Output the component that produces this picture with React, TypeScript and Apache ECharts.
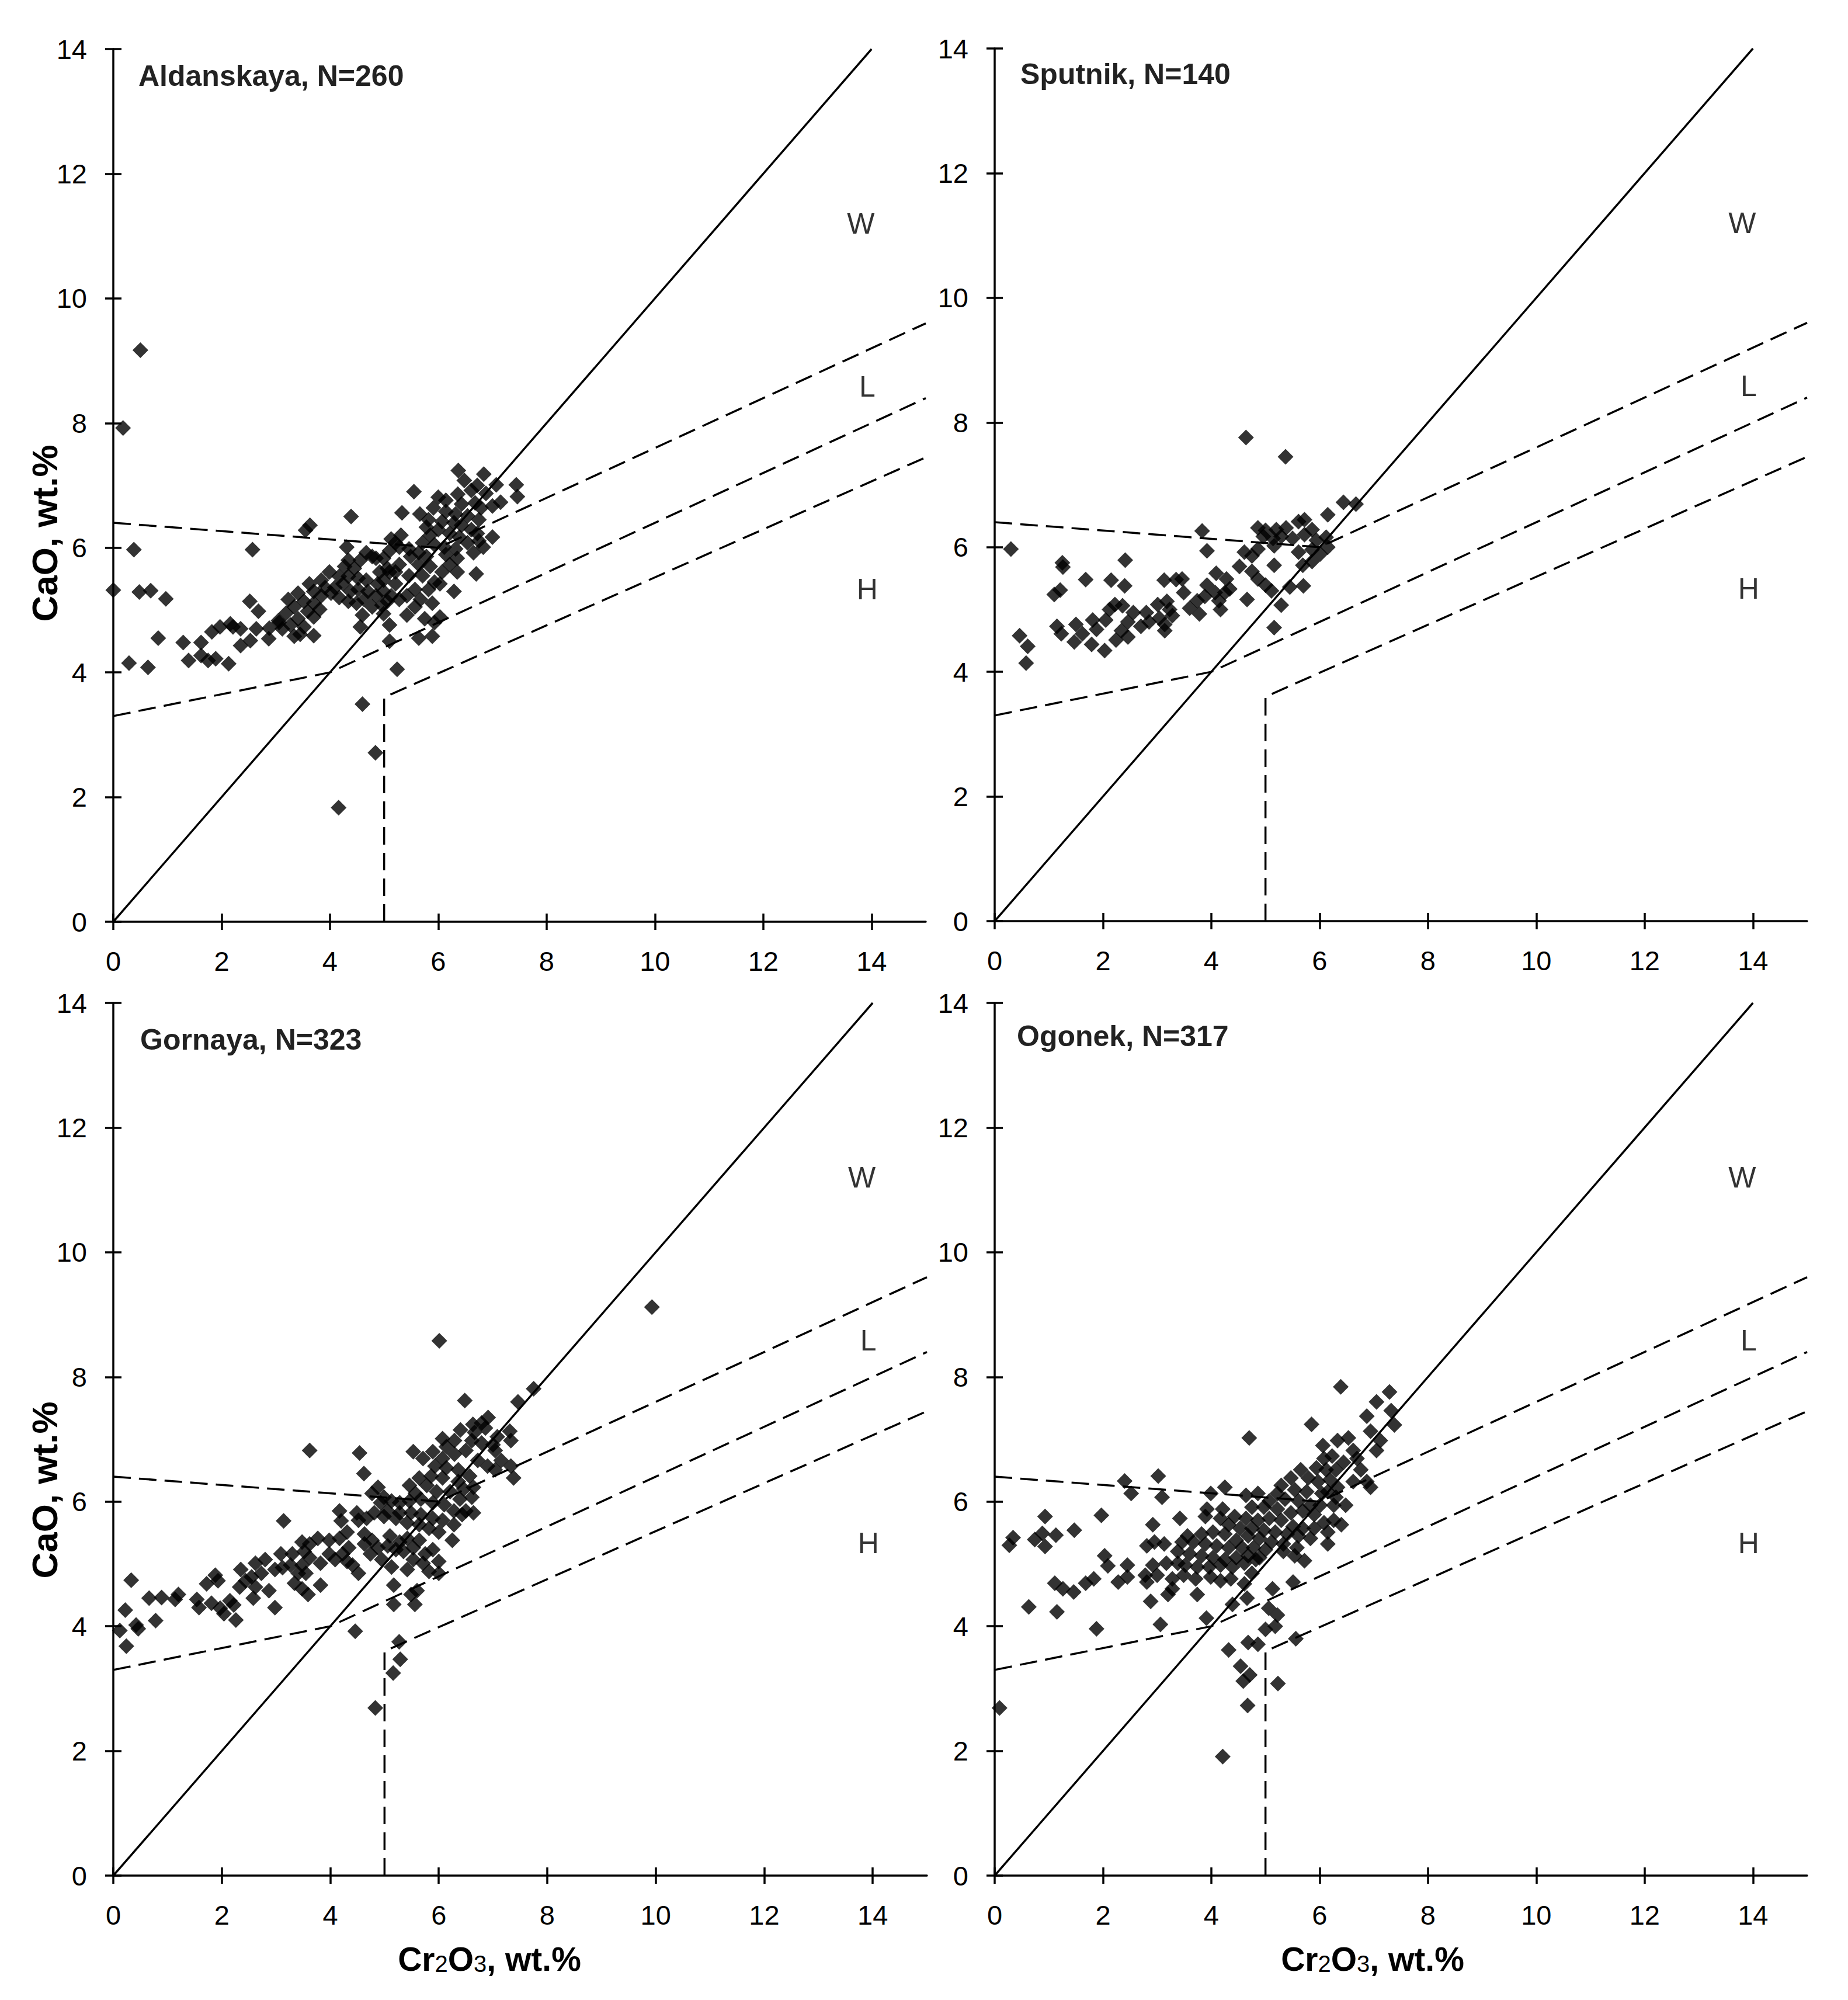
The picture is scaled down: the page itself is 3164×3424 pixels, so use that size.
import React, { useEffect, useRef } from "react";
import * as echarts from "echarts";

const FONT = '"Liberation Sans", Arial, sans-serif';

// ---------- axis ticks / texts ----------
const xTickValues = [0, 2, 4, 6, 8, 10, 12, 14];
const yTickValues = [0, 2, 4, 6, 8, 10, 12, 14];
const yAxisTitle = "CaO, wt.%";
const panelTitles = ["Aldanskaya, N=260", "Sputnik, N=140", "Gornaya, N=323", "Ogonek, N=317"];
const regionNames = ["W", "L", "H"];
const regionPositions = [[13.8, 11.2], [13.92, 8.58], [13.92, 5.33]];

// ---------- classification lines ----------
const diagonalLine = [[0, 0], [14, 14]];
const upperBoundary = [[0, 6.4], [6, 6], [15, 9.6]];
const middleBoundary = [[0, 3.3], [4, 4], [15, 8.4]];
const lowerBoundary = [[5, 0], [5, 3.6], [15, 7.45]];

// ---------- data ----------
const aldanskaya = [
  [0.5, 9.17], [0.18, 7.92], [0.38, 5.97], [0.0, 5.32], [0.48, 5.29], [0.69, 5.31], [0.97, 5.18], [0.83, 4.55],
  [0.29, 4.15], [0.64, 4.08], [1.29, 4.48], [1.39, 4.19], [1.62, 4.48], [1.62, 4.27], [1.75, 4.19], [1.89, 4.22],
  [2.13, 4.14], [1.82, 4.65], [1.97, 4.73], [2.16, 4.78], [2.35, 4.7], [2.35, 4.43], [2.53, 4.51], [2.64, 4.7],
  [2.68, 4.98], [2.52, 5.14], [2.57, 5.97], [2.87, 4.54], [2.88, 4.71], [3.06, 4.8], [2.21, 4.73], [3.63, 6.36],
  [3.55, 6.28], [4.39, 6.5], [4.6, 3.49], [4.84, 2.71], [4.16, 1.83], [5.55, 6.9], [6.37, 7.24], [6.84, 7.18],
  [7.07, 7.01], [7.44, 7.01], [7.46, 6.82],
  [6.48, 7.08], [6.72, 7.0], [6.88, 6.87], [6.61, 6.92], [6.36, 6.86], [6.0, 6.81], [6.14, 6.76], [6.43, 6.7],
  [6.68, 6.72], [7.15, 6.73], [7.0, 6.67], [6.79, 6.64], [5.33, 6.56], [5.66, 6.54], [5.91, 6.64], [6.14, 6.58],
  [6.32, 6.54], [6.54, 6.51], [6.75, 6.45], [5.82, 6.45], [6.07, 6.42], [6.29, 6.4], [6.43, 6.36], [6.61, 6.29],
  [5.78, 6.33], [6.0, 6.29], [6.21, 6.23], [6.39, 6.17], [6.72, 6.23], [7.0, 6.17], [6.75, 6.11], [6.54, 6.08],
  [5.85, 6.2], [5.71, 6.08], [5.93, 6.05], [6.11, 6.01], [6.32, 5.98], [6.65, 5.92], [6.83, 6.01], [5.31, 6.2],
  [5.21, 6.08], [5.46, 5.98], [5.64, 5.92], [5.78, 5.86], [6.14, 5.89], [6.35, 5.83], [6.21, 5.73], [5.1, 5.95],
  [4.99, 5.83], [5.06, 5.67], [5.28, 5.73], [5.49, 5.86], [5.64, 5.73], [5.85, 5.7], [6.07, 5.61], [6.35, 5.61],
  [6.7, 5.58], [5.21, 5.61], [5.46, 5.55], [5.71, 5.55], [5.93, 5.45], [6.03, 5.42], [6.29, 5.3], [5.82, 5.33],
  [5.57, 5.33], [5.42, 5.23], [5.67, 5.17], [5.89, 5.11], [5.21, 5.42], [4.99, 5.48], [4.92, 5.61], [4.85, 5.83],
  [4.78, 5.86], [4.67, 5.92], [4.56, 5.8], [4.34, 5.8], [4.45, 5.67], [4.31, 6.01], [4.27, 5.7], [5.13, 6.14],
  [5.28, 6.01], [5.1, 5.61], [4.88, 5.42], [4.67, 5.48], [4.52, 5.51], [4.34, 5.54], [4.17, 5.54], [3.99, 5.61],
  [3.84, 5.48], [3.62, 5.42], [3.7, 5.3], [3.91, 5.36], [4.09, 5.36], [4.24, 5.42], [4.38, 5.3], [4.52, 5.33],
  [4.7, 5.3], [4.85, 5.23], [4.99, 5.3], [5.13, 5.23], [5.28, 5.17], [5.06, 5.14], [4.96, 5.08], [4.63, 5.17],
  [4.49, 5.11], [4.34, 5.14], [4.17, 5.2], [4.02, 5.27], [3.84, 5.23], [3.7, 5.11], [3.52, 5.14], [3.41, 5.27],
  [3.23, 5.17], [3.34, 5.05], [3.19, 4.95], [3.05, 4.83], [3.12, 4.7], [3.27, 4.76], [3.41, 4.86], [3.59, 4.98],
  [3.81, 5.01], [3.7, 4.89], [3.52, 4.73], [3.34, 4.58], [3.45, 4.61], [3.7, 4.59], [4.6, 4.92], [4.56, 4.73],
  [4.78, 5.05], [4.99, 4.94], [5.1, 4.76], [5.42, 4.92], [5.57, 5.05], [5.75, 4.86], [5.93, 4.8], [6.03, 4.89],
  [5.89, 4.58], [5.64, 4.55], [5.1, 4.5], [5.24, 4.05]
];

const sputnik = [
  [0.3, 5.97], [1.25, 5.75], [1.26, 5.68], [2.41, 5.79], [1.68, 5.48], [2.15, 5.47], [2.4, 5.38], [3.13, 5.47],
  [3.35, 5.48], [1.21, 5.31], [1.1, 5.24], [1.15, 4.73], [1.23, 4.61], [0.46, 4.58], [0.61, 4.41], [0.58, 4.14],
  [1.5, 4.76], [1.47, 4.48], [1.62, 4.61], [1.79, 4.44], [1.81, 4.83], [1.88, 4.68], [2.03, 4.34], [2.05, 4.83],
  [2.12, 5.0], [2.24, 4.51], [2.22, 5.08], [2.36, 5.06], [2.34, 4.66], [2.46, 4.56], [2.46, 4.8], [2.56, 4.95],
  [2.7, 4.73], [2.8, 4.95], [2.85, 4.8], [3.04, 4.86], [3.01, 5.08], [3.14, 4.66], [3.14, 4.76], [3.23, 5.0],
  [3.28, 4.9], [3.18, 5.13], [4.64, 7.76], [5.37, 7.45],
  [6.44, 6.72], [6.67, 6.69], [6.15, 6.52], [3.83, 6.26], [3.92, 5.94], [4.86, 6.31], [5.0, 6.27], [5.2, 6.28],
  [5.38, 6.31], [5.61, 6.41], [5.72, 6.44], [5.86, 6.28], [4.96, 6.17], [5.14, 6.14], [5.29, 6.17], [5.5, 6.14],
  [5.72, 6.2], [5.94, 6.11], [6.12, 6.16], [5.16, 6.02], [5.61, 5.92], [5.86, 5.96], [6.01, 5.89], [6.15, 6.0],
  [4.86, 5.97], [4.61, 5.92], [4.75, 5.86], [4.52, 5.69], [5.16, 5.71], [5.69, 5.71], [5.86, 5.77], [4.09, 5.58],
  [4.28, 5.49], [4.75, 5.61], [4.86, 5.49], [5.0, 5.39], [5.11, 5.3], [3.92, 5.39], [3.46, 5.49], [3.49, 5.27],
  [3.74, 5.14], [3.88, 5.21], [4.07, 5.27], [4.25, 5.27], [4.14, 5.14], [3.6, 5.02], [3.78, 4.93], [4.17, 5.0],
  [4.66, 5.16], [5.29, 5.07], [5.45, 5.36], [5.7, 5.38], [5.16, 4.71], [4.34, 5.33]
];

const gornaya = [
  [6.01, 8.58], [7.75, 7.81], [7.46, 7.6], [6.48, 7.62], [3.62, 6.82], [4.54, 6.78], [4.62, 6.45], [3.14, 5.69],
  [4.46, 3.92], [4.83, 2.69], [5.27, 3.75], [5.29, 3.47], [5.16, 3.25], [9.93, 9.12],
  [0.33, 4.74], [0.22, 4.26], [0.12, 3.93], [0.24, 3.68], [0.42, 4.02], [0.46, 3.96], [0.78, 4.09], [0.66, 4.45],
  [0.89, 4.46], [1.14, 4.43], [1.2, 4.51], [1.54, 4.43], [1.58, 4.3], [1.81, 4.37], [1.72, 4.68], [1.88, 4.82],
  [1.93, 4.73], [1.97, 4.29], [2.04, 4.2], [2.15, 4.41], [2.22, 4.34], [2.26, 4.1], [2.35, 4.91], [2.33, 4.63],
  [2.44, 4.73], [2.58, 4.45], [2.55, 4.79], [2.62, 5.01], [2.62, 4.63], [2.73, 4.85], [2.8, 5.07], [2.87, 4.57],
  [2.98, 4.3], [2.98, 4.91], [3.09, 5.16], [3.12, 4.94], [3.3, 5.16], [3.27, 4.98], [3.34, 4.69], [3.41, 4.85],
  [6.91, 7.35], [6.79, 7.26], [6.63, 7.24], [6.4, 7.15], [7.31, 7.13], [6.66, 7.11], [6.86, 7.18], [7.08, 7.04],
  [7.33, 6.98], [6.07, 7.01], [6.29, 6.98], [6.61, 6.98], [6.79, 6.94], [7.0, 6.91], [5.53, 6.8], [5.89, 6.8],
  [6.14, 6.88], [5.71, 6.69], [6.07, 6.69], [6.29, 6.76], [6.5, 6.82], [6.72, 6.66], [7.04, 6.82], [7.15, 6.66],
  [6.9, 6.57], [7.04, 6.51], [7.33, 6.57], [7.38, 6.38], [5.93, 6.57], [6.14, 6.54], [6.36, 6.51], [6.57, 6.41],
  [6.64, 6.23], [6.61, 6.07], [6.64, 5.82], [6.5, 5.85], [5.46, 6.26], [5.64, 6.38], [5.86, 6.41], [6.07, 6.38],
  [6.36, 6.32], [5.57, 6.13], [5.78, 6.26], [5.96, 6.16], [6.21, 6.16], [6.39, 6.04], [6.46, 6.2], [5.46, 6.01],
  [5.67, 6.04], [5.89, 5.98], [6.1, 5.95], [6.28, 5.85], [6.43, 5.79], [4.88, 6.23], [4.77, 6.13], [4.99, 6.07],
  [5.13, 6.01], [5.28, 5.98], [4.93, 5.98], [5.06, 5.85], [5.28, 5.82], [5.49, 5.82], [5.67, 5.79], [5.89, 5.73],
  [6.07, 5.7], [6.28, 5.63], [6.25, 5.38], [6.0, 5.51], [5.82, 5.57], [5.64, 5.63], [5.42, 5.66], [5.21, 5.73],
  [4.99, 5.76], [4.81, 5.82], [4.67, 5.73], [4.52, 5.7], [4.49, 5.82], [4.17, 5.85], [4.2, 5.69], [4.31, 5.51],
  [4.17, 5.41], [3.98, 5.38], [3.77, 5.41], [3.62, 5.32], [3.48, 5.35], [3.52, 5.2], [3.62, 5.1], [3.48, 4.98],
  [3.55, 4.85], [3.48, 4.6], [3.59, 4.51], [3.82, 4.66], [3.82, 5.01], [3.98, 5.16], [4.09, 5.07], [4.23, 5.16],
  [4.34, 5.26], [4.31, 5.04], [4.41, 4.98], [4.52, 4.85], [4.63, 5.48], [4.63, 5.32], [4.77, 5.38], [4.74, 5.16],
  [4.88, 5.26], [4.95, 5.07], [5.1, 5.45], [5.06, 5.29], [5.21, 5.23], [5.28, 5.35], [5.42, 5.41], [5.35, 5.2],
  [5.53, 5.26], [5.64, 5.38], [5.75, 5.16], [5.89, 5.23], [5.53, 5.07], [5.71, 5.01], [6.0, 5.04], [6.0, 4.85],
  [5.82, 4.88], [5.42, 4.91], [5.13, 4.95], [5.17, 4.66], [5.6, 4.57], [5.56, 4.35], [5.17, 4.35], [5.49, 4.51]
];

const ogonek = [
  [0.09, 2.69], [4.21, 1.91], [0.34, 5.42], [0.27, 5.3], [0.74, 5.39], [0.88, 5.49], [0.93, 5.76], [1.13, 5.46],
  [0.93, 5.28], [1.47, 5.54], [1.97, 5.78], [0.63, 4.31], [1.11, 4.69], [1.26, 4.6], [1.46, 4.55], [1.15, 4.23],
  [1.68, 4.69], [1.83, 4.76], [1.88, 3.96], [2.03, 5.13], [2.09, 4.97], [2.28, 4.71], [2.4, 6.33], [4.54, 3.36],
  [4.71, 3.22], [4.59, 3.12], [4.67, 2.73], [5.23, 3.08],
  [6.39, 7.84], [7.29, 7.76], [7.05, 7.6], [7.32, 7.46], [6.87, 7.37], [5.85, 7.24], [4.7, 7.02], [7.38, 7.23],
  [6.94, 7.13], [7.12, 6.98], [7.05, 6.82], [6.33, 6.98], [6.53, 7.02], [6.06, 6.9], [6.62, 6.82], [6.69, 6.69],
  [6.23, 6.73], [6.08, 6.69], [6.44, 6.63], [6.76, 6.51], [6.62, 6.32], [6.94, 6.23], [6.87, 6.32], [5.94, 6.54],
  [6.12, 6.51], [6.3, 6.51], [6.19, 6.35], [6.33, 6.23], [5.65, 6.51], [5.47, 6.38], [5.79, 6.38], [5.97, 6.32],
  [6.48, 5.94], [6.3, 6.07], [5.29, 6.26], [5.54, 6.19], [5.76, 6.16], [6.04, 6.13], [6.15, 6.16], [6.26, 5.94],
  [6.01, 5.94], [5.83, 5.94], [5.61, 6.01], [5.36, 6.04], [5.22, 6.13], [5.07, 6.01], [4.86, 6.13], [4.64, 6.1],
  [4.25, 6.23], [3.99, 6.13], [3.02, 6.41], [3.09, 6.07], [2.52, 6.13], [4.75, 5.91], [4.97, 5.91], [5.22, 5.88],
  [5.47, 5.82], [5.69, 5.85], [5.9, 5.79], [6.08, 5.66], [6.26, 5.7], [6.15, 5.51], [6.4, 5.63], [6.15, 5.32],
  [5.9, 5.57], [5.69, 5.57], [5.51, 5.6], [5.29, 5.7], [5.07, 5.73], [4.86, 5.7], [4.64, 5.73], [4.43, 5.76],
  [4.21, 5.88], [4.17, 5.73], [3.92, 5.88], [3.89, 5.76], [3.42, 5.73], [2.92, 5.63], [4.32, 5.63], [4.53, 5.57],
  [4.75, 5.57], [4.97, 5.54], [5.18, 5.51], [5.4, 5.48], [5.61, 5.45], [5.83, 5.41], [5.33, 5.32], [5.58, 5.26],
  [5.11, 5.35], [4.89, 5.41], [4.68, 5.45], [4.46, 5.38], [4.25, 5.48], [4.03, 5.51], [3.82, 5.48], [3.56, 5.45],
  [3.46, 5.35], [3.67, 5.35], [3.89, 5.32], [4.1, 5.29], [4.32, 5.26], [4.57, 5.26], [4.78, 5.26], [5.0, 5.23],
  [5.33, 5.2], [5.54, 5.13], [5.72, 5.05], [4.89, 5.1], [4.68, 5.13], [4.46, 5.1], [4.25, 5.07], [4.03, 5.1],
  [3.82, 5.13], [3.6, 5.16], [3.38, 5.2], [3.13, 5.32], [2.81, 5.29], [2.95, 5.35], [2.92, 4.98], [3.17, 5.01],
  [3.38, 5.01], [3.52, 4.98], [3.74, 4.95], [3.96, 4.95], [4.17, 4.98], [4.39, 4.95], [4.61, 5.01], [4.82, 5.07],
  [2.45, 4.98], [2.45, 4.79], [2.78, 4.82], [3.0, 4.82], [3.28, 4.76], [3.49, 4.82], [3.71, 4.76], [3.99, 4.79],
  [4.17, 4.73], [4.36, 4.76], [2.81, 4.71], [3.28, 4.6], [3.74, 4.51], [3.2, 4.51], [2.88, 4.4], [4.61, 4.68],
  [4.75, 4.85], [5.51, 4.71], [5.13, 4.6], [4.66, 4.45], [4.39, 4.35], [3.91, 4.13], [3.06, 4.03], [5.06, 4.29],
  [5.22, 4.18], [5.0, 3.95], [5.18, 4.0], [4.68, 3.74], [4.86, 3.71], [4.32, 3.62], [5.56, 3.8]
];

const panelData = [aldanskaya, sputnik, gornaya, ogonek];

// ---------- layout (pixels) ----------
const GRIDS = [
  { left: 194, top: 84, width: 1391, height: 1494 },
  { left: 1703, top: 83, width: 1391, height: 1494 },
  { left: 194, top: 1717, width: 1393, height: 1494 },
  { left: 1703, top: 1717, width: 1391, height: 1494 },
];
const TITLE_POS = [[237, 130], [1747, 127], [240, 1780], [1741, 1774]];
const YNAME_POS = [[76, 913], [76, 2551]];
const XNAME_POS = [[838, 3350], [2350, 3350]];

function buildOption() {
  const grid: any[] = [];
  const xAxis: any[] = [];
  const yAxis: any[] = [];
  const series: any[] = [];
  const tickStyle = { color: "#000", width: 3.5 };
  GRIDS.forEach((g, i) => {
    grid.push({ ...g, containLabel: false, outerBoundsMode: "none" });
    xAxis.push({
      gridIndex: i, type: "value", position: "bottom", min: 0, max: 15, interval: 2,
      axisLine: { show: true, onZero: false, lineStyle: tickStyle },
      axisTick: { show: true, inside: false, length: 14, lineStyle: tickStyle, customValues: xTickValues },
      axisLabel: { show: true, customValues: xTickValues, fontSize: 47, color: "#000", margin: 44, fontFamily: FONT },
      splitLine: { show: false },
    });
    xAxis.push({
      gridIndex: i, type: "value", position: "bottom", min: 0, max: 15, interval: 2,
      axisLine: { show: false },
      axisTick: { show: true, inside: true, length: 14, lineStyle: tickStyle, customValues: xTickValues },
      axisLabel: { show: false },
      splitLine: { show: false },
    });
    yAxis.push({
      gridIndex: i, type: "value", position: "left", min: 0, max: 14, interval: 2,
      axisLine: { show: true, onZero: false, lineStyle: tickStyle },
      axisTick: { show: true, inside: false, length: 14, lineStyle: tickStyle, customValues: yTickValues },
      axisLabel: { show: true, customValues: yTickValues, fontSize: 47, color: "#000", margin: 45, fontFamily: FONT },
      splitLine: { show: false },
    });
    yAxis.push({
      gridIndex: i, type: "value", position: "left", min: 0, max: 14, interval: 2,
      axisLine: { show: false },
      axisTick: { show: true, inside: true, length: 14, lineStyle: tickStyle, customValues: yTickValues },
      axisLabel: { show: false },
      splitLine: { show: false },
    });
    const ax = { xAxisIndex: 2 * i, yAxisIndex: 2 * i };
    const lineBase = { type: "line", symbol: "none", silent: true, z: 1, ...ax };
    series.push({ ...lineBase, data: diagonalLine, lineStyle: { color: "#000", width: 3.5, type: "solid" } });
    [upperBoundary, middleBoundary, lowerBoundary].forEach((d) =>
      series.push({ ...lineBase, data: d, lineStyle: { color: "#000", width: 3.5, type: [30, 14] } })
    );
    series.push({
      type: "scatter", ...ax, z: 3, silent: true, data: panelData[i],
      symbol: "diamond", symbolSize: 27, itemStyle: { color: "#000" },
    });
    series.push({
      type: "scatter", ...ax, z: 4, silent: true, symbolSize: 0,
      data: regionNames.map((n, k) => ({ name: n, value: regionPositions[k] })),
      label: { show: true, position: "inside", formatter: "{b}", fontSize: 50, color: "#000", fontFamily: FONT },
    });
  });

  const graphic: any[] = [];
  panelTitles.forEach((t, i) => {
    graphic.push({
      type: "text", x: TITLE_POS[i][0], y: TITLE_POS[i][1], silent: true,
      style: { text: t, fontSize: 50, fontWeight: "bold", fontFamily: FONT, fill: "#222", align: "left", verticalAlign: "middle" },
    });
  });
  YNAME_POS.forEach((p) => {
    graphic.push({
      type: "text", x: p[0], y: p[1], rotation: Math.PI / 2, silent: true,
      style: { text: yAxisTitle, fontSize: 62, fontWeight: "bold", fontFamily: FONT, fill: "#000", align: "center", verticalAlign: "middle" },
    });
  });
  XNAME_POS.forEach((p) => {
    graphic.push({
      type: "text", x: p[0], y: p[1], silent: true,
      style: {
        text: "{b|Cr}{s|2}{b|O}{s|3}{b|, wt.%}",
        align: "center", verticalAlign: "middle", fill: "#000",
        rich: {
          b: { fontSize: 57, fontWeight: "bold", fontFamily: FONT, fill: "#000", verticalAlign: "bottom", lineHeight: 64 },
          s: { fontSize: 40, fontWeight: "normal", fontFamily: FONT, fill: "#000", verticalAlign: "bottom", lineHeight: 64 },
        },
      },
    });
  });

  return {
    animation: false,
    backgroundColor: "#fff",
    textStyle: { fontFamily: FONT },
    grid, xAxis, yAxis, series, graphic,
  };
}

export default function App() {
  const ref = useRef<HTMLDivElement>(null);
  useEffect(() => {
    if (!ref.current) return;
    const chart = echarts.init(ref.current, undefined, { renderer: "svg" });
    chart.setOption(buildOption() as any);
    return () => chart.dispose();
  }, []);
  return (
    <div
      ref={ref}
      style={{ position: "absolute", left: 0, top: 0, width: 3164, height: 3424, background: "#fff" }}
    />
  );
}
